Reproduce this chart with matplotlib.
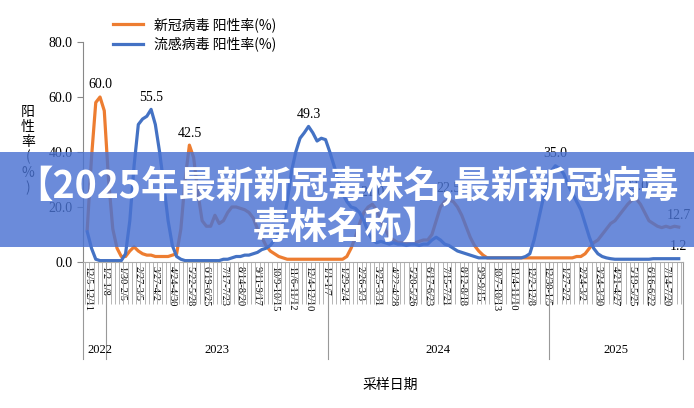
import matplotlib
matplotlib.use("Agg")
from matplotlib import pyplot as plt
from matplotlib import font_manager
from matplotlib.patches import Rectangle
from matplotlib.lines import Line2D
import matplotlib.transforms as mtransforms

# weekly positivity rates, 12/5/2022 onward
covid = [12, 38, 58, 60, 55, 30, 12, 5, 2, 2,
         4, 5.5, 4, 3, 2.5, 2.5, 2, 2, 2, 2,
         2.5, 3, 12, 30, 42.5, 38, 25, 15, 13, 13,
         17, 14, 15, 18, 20, 20, 19.5, 19, 18, 16,
         12, 9, 6, 4, 3, 2, 1.5, 1, 1, 1,
         1, 1, 1, 1, 1, 1, 1, 1, 1, 1,
         1, 2, 5, 9, 14, 18, 20, 21, 19, 15,
         12, 9, 8, 7, 7, 7, 7.5, 7, 7.5, 8,
         8, 10, 15, 20, 22, 22.5, 22, 20, 17, 13,
         9, 6, 4, 2.5, 1.5, 1.5, 1.5, 1.5, 1.5, 1.5,
         1.5, 1.5, 1.5, 1.5, 1.5, 1.5, 1.5, 1.5, 1.5, 1.5,
         1.5, 1.5, 1.5, 1.5, 1.5, 2, 2, 3, 5, 7,
         8, 10, 12, 14, 15, 17, 19, 21, 22.5, 23,
         21, 18, 15, 14, 13, 12.5, 13, 12.5, 13, 12.7]
flu = [11, 5, 1, 0.5, 0.5, 0.5, 0.5, 0.5, 0.5, 3,
       15, 35, 50, 52, 53, 55.5, 50, 40, 28, 15,
       6, 2, 1, 0.5, 0.5, 0.5, 0.5, 0.5, 0.5, 0.5,
       0.5, 0.5, 1, 1, 1.5, 2, 2, 2.5, 2.5, 3,
       3.5, 4.5, 5, 6, 8, 11, 14, 22, 33, 40,
       45, 47, 49.3, 47, 44, 45, 44.5, 40, 35, 30,
       25, 22, 20, 19.5, 18, 15, 11, 8, 7, 7.5,
       7, 6.5, 7, 6.5, 6.5, 6, 6.5, 6.5, 6, 6.5,
       6.5, 8, 9, 8, 6.5, 6, 5, 4, 3.5, 3,
       2.5, 2, 1.5, 1.5, 1.5, 1.5, 1.5, 1.5, 1.5, 1.5,
       1.5, 1.5, 1.5, 2, 3, 8, 15, 22, 28, 33,
       35, 34, 32, 28, 25, 22, 19, 14, 9, 5,
       3, 2, 1.5, 1.2, 1, 1, 1, 1, 1, 1,
       1, 1, 1, 1.2, 1.2, 1.2, 1.2, 1.2, 1.2, 1.2]
week_labels = ["12/5-12/11", "1/2-1/8", "1/30-2/5", "2/27-3/5", "3/27-4/2", "4/24-4/30",
               "5/22-5/28", "6/19-6/25", "7/17-7/23", "8/14-8/20", "9/11-9/17", "10/9-10/15",
               "11/6-11/12", "12/4-12/10", "1/1-1/7", "1/29-2/4", "2/26-3/3", "3/25-3/31",
               "4/22-4/28", "5/20-5/26", "6/17-6/23", "7/15-7/21", "8/12-8/18", "9/9-9/15",
               "10/7-10/13", "11/4-11/10", "12/2-12/8", "12/30-1/5", "1/27-2/2", "2/24-3/2",
               "3/24-3/30", "4/21-4/27", "5/19-5/25", "6/16-6/22", "7/14-7/20"]
years = ["2022", "2023", "2024", "2025"]
year_bounds = [-1, 4.5, 56.5, 108.5, 140]
covid_marks = [3, 24, 67, 85, 129, 139]
flu_marks = [15, 52, 110, 139]

serif = "Liberation Serif"
plt.rcParams["font.sans-serif"] = ["Noto Sans CJK SC", "Noto Sans CJK JP", "DejaVu Sans"]
plt.rcParams["font.family"] = "sans-serif"
cjk = font_manager.FontProperties(family="sans-serif", size=10)
cjk_big = font_manager.FontProperties(family="sans-serif", size=27, weight="bold")
orange = "#ED7D31"
blue = "#4472C4"

fig = plt.figure(figsize=(6.94, 4.08), dpi=100)
ax = fig.add_axes([83 / 694, 1 - 262 / 408, 600 / 694, 220 / 408])
weeks = list(range(len(covid)))
ax.plot(weeks, covid, color=orange, lw=2.3, label="新冠病毒 阳性率(%)")
ax.plot(weeks, flu, color=blue, lw=2.3, label="流感病毒 阳性率(%)")

for i in covid_marks:
    ax.text(i, covid[i] + 2, f"{covid[i]:.1f}", ha="center", va="bottom", family=serif, fontsize=10)
for i in flu_marks:
    ax.text(i, flu[i] + 2, f"{flu[i]:.1f}", ha="center", va="bottom", family=serif, fontsize=10)

ax.set_xlim(-1, 140)
ax.set_ylim(0, 80)
ax.set_yticks([0, 20, 40, 60, 80])
ax.set_yticklabels([f"{v:.1f}" for v in [0, 20, 40, 60, 80]], family=serif, fontsize=10)
ax.set_xticks(range(0, 140, 4))
ax.set_xticklabels(week_labels, rotation=270, family=serif, fontsize=7.5)
ax.set_xticks([w + 0.5 for w in range(-1, 140)], minor=True)
ax.tick_params(axis="x", which="major", length=0, pad=3)
ax.tick_params(axis="x", which="minor", length=30, color="#aaaaaa", width=0.6)
ax.tick_params(axis="y", length=4, color="#888888")
for s in ["top", "right"]:
    ax.spines[s].set_visible(False)
ax.spines["left"].set_color("#888888")
ax.spines["bottom"].set_color("#aaaaaa")

trans = mtransforms.blended_transform_factory(ax.transData, ax.transAxes)
for b in year_bounds:
    ax.add_line(Line2D([b, b], [0, -0.44], transform=trans, color="#999999", lw=0.8, clip_on=False))
for k, y in enumerate(years):
    x0 = year_bounds[k] + 1 if k == 0 else (year_bounds[k] + year_bounds[k + 1]) / 2
    ax.text(x0, -0.40, y, transform=trans, ha="left" if k == 0 else "center", va="center",
            family=serif, fontsize=9)

fig.text(28 / 694, 1 - 150 / 408, "阳\n性\n率\n(\n%\n)", ha="center", va="center",
         fontproperties=cjk, linespacing=1.1)
fig.text(390 / 694, 1 - 385 / 408, "采样日期", ha="center", va="center", fontproperties=cjk)
fig.legend(loc="upper left", bbox_to_anchor=(100 / 694, 1 - 5 / 408), frameon=False,
           prop=cjk, handlelength=2.2, labelspacing=0.3)

# overlay banner, drawn above the axes
fig.add_artist(Rectangle((0, 1 - 247 / 408), 1, 95 / 408, transform=fig.transFigure,
                         facecolor="#4a72d2", alpha=0.82, edgecolor="none", zorder=10))
fig.text(0.5, 1 - 186 / 408, "【2025年最新新冠毒株名,最新新冠病毒", ha="center", va="center",
         fontproperties=cjk_big, color="white", zorder=11)
fig.text(0.5, 1 - 227 / 408, "毒株名称】", ha="center", va="center",
         fontproperties=cjk_big, color="white", zorder=11)

fig.savefig("out.png", dpi=100)
